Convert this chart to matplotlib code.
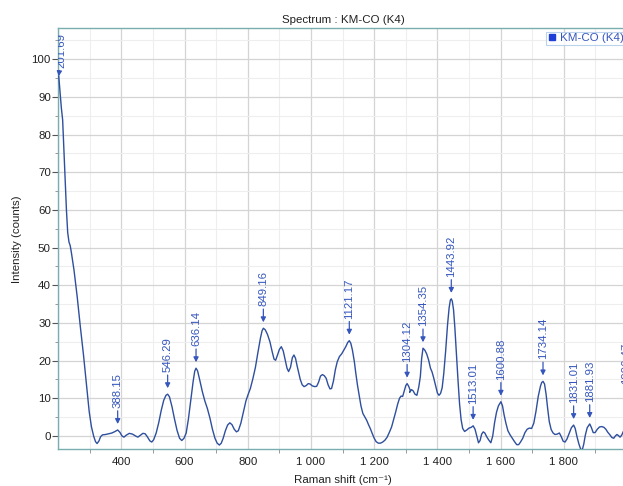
import matplotlib
matplotlib.use("Agg")
import matplotlib.pyplot as plt
from matplotlib.lines import Line2D
from matplotlib.ticker import MultipleLocator, FixedLocator, FuncFormatter

plt.rcParams['font.family'] = ['Liberation Sans', 'DejaVu Sans']

# Raman spectrum of KM-CO (K4)
raman_shift = [
    201.69, 206, 210, 214, 218, 222, 226, 230, 234, 238, 242, 250, 260, 270, 280, 290, 298,
    305, 312, 318, 323, 329, 334, 340, 350, 360, 370, 380, 388.15, 395, 402, 408, 415, 425,
    435, 445, 452, 460, 468, 475, 482, 490, 496, 502, 510, 518, 526, 534, 541, 546.29, 552,
    560, 568, 576, 584, 591, 598, 605, 612, 620, 627, 632, 636.14, 641, 648, 656, 664, 672,
    680, 688, 696, 703, 710, 716, 722, 729, 736, 743, 750, 757, 764, 770, 778, 786, 794,
    800, 808, 816, 824, 832, 840, 845, 849.16, 855, 862, 870, 877, 883, 888, 894, 900, 906,
    912, 918, 924, 929, 935, 941, 946, 951, 956, 961, 966, 972, 978, 985, 991, 997, 1004,
    1012, 1018, 1024, 1030, 1036, 1042, 1048, 1054, 1060, 1065, 1071, 1077, 1083, 1090,
    1097, 1104, 1110, 1116, 1121.17, 1126, 1131, 1137, 1142, 1147, 1152, 1158, 1164, 1170,
    1176, 1182, 1188, 1194, 1200, 1206, 1213, 1220, 1227, 1234, 1241, 1248, 1255, 1262,
    1268, 1274, 1280, 1285, 1290, 1296, 1300, 1304.12, 1309, 1314, 1312, 1318, 1323, 1329,
    1335, 1341, 1346, 1350, 1354.35, 1360, 1366, 1372, 1378, 1383, 1388, 1394, 1400, 1405,
    1410, 1415, 1420, 1426, 1432, 1437, 1441, 1443.92, 1447, 1451, 1455, 1460, 1465, 1470,
    1475, 1480, 1486, 1493, 1500, 1507, 1513.01, 1519, 1524, 1530, 1535, 1540, 1545, 1550,
    1556, 1562, 1569, 1575, 1581, 1587, 1593, 1600.88, 1606, 1611, 1617, 1623, 1630, 1637,
    1644, 1651, 1657, 1663, 1670, 1677, 1684, 1691, 1698, 1705, 1712, 1719, 1726, 1730,
    1734.14, 1739, 1744, 1749, 1754, 1760, 1766, 1772, 1779, 1786, 1792, 1798, 1804, 1810,
    1817, 1824, 1831.01, 1836, 1842, 1848, 1853, 1858, 1863, 1868, 1874, 1881.93, 1887,
    1893, 1899, 1906, 1913, 1920, 1927, 1933, 1939, 1946, 1952, 1958, 1963, 1968, 1973,
    1978, 1983, 1990, 1993, 1996.47, 2000, 2005,
]
intensity = [
    95.5, 91.0, 87.0, 83.9, 76.0, 68.0, 60.0, 54.0, 51.5, 50.5, 48.5, 44.0, 37.0, 29.0, 21.5, 13.0, 6.5,
    2.5, 0.0, -1.5, -2.0, -1.3, -0.2, 0.3, 0.4, 0.6, 0.8, 1.2, 1.6, 1.0, 0.0, -0.3, 0.2, 0.7,
    0.5, 0.0, -0.3, 0.2, 0.7, 0.6, -0.2, -1.3, -1.6, -1.0, 0.8, 3.5, 6.8, 9.5, 10.8, 11.1, 10.4,
    7.8, 4.5, 1.5, -0.6, -1.2, -0.6, 0.8, 4.5, 9.8, 14.5, 17.2, 18.0, 17.3, 14.8, 11.8, 9.3, 7.3,
    4.8, 1.8, -0.6, -1.9, -2.4, -1.9, -0.6, 1.4, 2.9, 3.5, 3.0, 1.8, 1.1, 1.4, 3.4, 6.4, 9.3,
    10.8, 12.6, 15.2, 18.2, 22.2, 26.0, 27.9, 28.6, 28.2, 27.0, 25.0, 22.4, 20.4, 20.1, 21.5, 23.0, 23.7,
    22.6, 20.3, 18.0, 17.1, 18.2, 20.8, 21.5, 20.6, 18.6, 16.8, 15.0, 13.6, 13.1, 13.4, 13.9, 13.8, 13.3,
    13.1, 13.2, 14.3, 15.9, 16.3, 16.0, 15.3, 13.6, 12.5, 12.6, 14.6, 17.6, 19.7, 21.1,
    21.8, 22.8, 23.7, 24.8, 25.3, 24.6, 22.8, 19.8, 16.5, 13.5, 11.0, 8.0, 6.0, 5.1,
    4.2, 3.0, 1.9, 0.6, -0.6, -1.5, -1.9, -1.9, -1.6, -1.1, -0.3, 1.0, 2.4, 4.5,
    6.4, 8.4, 10.0, 10.6, 10.5, 12.3, 13.4, 13.9, 13.2, 12.1, 11.6, 12.3, 12.0, 11.1,
    10.8, 13.0, 15.8, 20.5, 23.3, 22.8, 21.8, 20.2, 18.0, 17.0, 15.5, 13.4, 11.4, 10.8,
    11.3, 12.8, 16.5, 22.5, 29.5, 34.0, 36.1, 36.4, 35.8, 33.5, 29.0, 22.0, 15.0, 8.6,
    4.3, 2.0, 1.2, 1.6, 2.1, 2.3, 2.7, 1.8, 0.2, -1.8, -1.2, 0.5, 1.1, 0.8,
    -0.2, -1.0, -1.8, 0.0, 3.6, 6.3, 8.0, 9.1, 8.0, 5.6, 3.3, 1.4, 0.3, -0.6,
    -1.5, -2.3, -2.3, -1.6, -0.6, 0.9, 1.8, 2.1, 2.0, 3.4, 6.6, 10.5, 13.2, 14.2,
    14.5, 13.8, 11.0, 7.2, 3.8, 1.7, 0.8, 0.4, 0.5, 0.8, -0.2, -1.4, -1.6, -0.8,
    0.7, 2.2, 2.9, 2.0, -0.3, -2.2, -3.4, -3.8, -2.2, 0.2, 2.2, 3.2, 2.3,
    0.9, 0.9, 1.8, 2.4, 2.5, 2.3, 1.8, 1.0, 0.3, -0.4, -0.6, 0.0, 0.4, 0.1,
    -0.3, 0.2, 1.5, 4.5, 8.0, 4.0, 1.5,
]

# Labelled peak positions (cm-1)
peak_labels = ['201.69', '388.15', '546.29', '636.14', '849.16', '1121.17', '1304.12',
               '1354.35', '1443.92', '1513.01', '1600.88', '1734.14', '1831.01',
               '1881.93', '1996.47']

x_ticks = [400, 600, 800, 1000, 1200, 1400, 1600, 1800]
y_ticks = [0, 10, 20, 30, 40, 50, 60, 70, 80, 90, 100]

series_name = 'KM-CO (K4)'

line_color = '#2e4f9e'
label_color = '#3556bd'
spine_color = '#7aaeae'
fs = 8.25

fig = plt.figure(figsize=(6.23, 4.86), dpi=100)
W, H = 623.0, 486.0
ax = fig.add_axes([57.9 / W, 1 - 449.3 / H, (628.6 - 57.9) / W, (449.3 - 28.3) / H])

ax.plot(raman_shift, intensity, color=line_color, lw=1.0, zorder=3)

ax.set_xlim(199, 2005)
ax.set_ylim(-3.53, 108.2)

ax.xaxis.set_major_locator(FixedLocator(x_ticks))
ax.xaxis.set_minor_locator(FixedLocator([300, 500, 700, 900, 1100, 1300, 1500, 1700, 1900]))
ax.yaxis.set_major_locator(FixedLocator(y_ticks))
ax.yaxis.set_minor_locator(MultipleLocator(5))
ax.xaxis.set_major_formatter(FuncFormatter(lambda v, p: f"{int(round(v)):,}".replace(',', ' ')))

ax.grid(which='major', color='#d4d4d4', lw=0.9, zorder=0)
ax.grid(which='minor', color='#eeeeee', lw=0.8, zorder=0)
# keep the 200 / 2000 gridlines that sit outside the tick list
for gx in (200, 2000):
    ax.axvline(gx, color='#d4d4d4', lw=0.9, zorder=0)
ax.set_axisbelow(True)

for side in ('left', 'bottom', 'top'):
    ax.spines[side].set_color(spine_color)
    ax.spines[side].set_linewidth(1.0)
ax.spines['right'].set_visible(False)

ax.tick_params(axis='x', which='major', length=0, pad=5.5, labelsize=fs, colors='#222222')
ax.tick_params(axis='x', which='minor', length=3, color='#888888', direction='out')
ax.tick_params(axis='y', which='major', length=4, pad=1, labelsize=fs, color='#555555',
               labelcolor='#222222')
ax.tick_params(axis='y', which='minor', length=2.5, color='#888888')

ax.set_title('Spectrum : KM-CO (K4)', fontsize=fs, pad=4, color='#222222')
ax.set_xlabel('Raman shift (cm\u207b\u00b9)', fontsize=fs, labelpad=5.5, color='#222222')
ax.set_ylabel('Intensity (counts)', fontsize=fs, labelpad=7, color='#222222')

# Peak annotations
lookup = {}
for xv, yv in zip(raman_shift, intensity):
    lookup.setdefault(xv, yv)

for lab in peak_labels:
    xv = float(lab)
    yv = lookup[xv]
    if lab == '201.69':
        offset = (2.2, 6.0)
        shrink = 0
    else:
        offset = (0, 15.8)
        shrink = 4.3
    ax.annotate(lab, xy=(xv, yv), xytext=offset, textcoords='offset points',
                rotation=90, ha='center', va='bottom', fontsize=8.2, color=label_color,
                arrowprops=dict(arrowstyle='-|>,head_length=0.35,head_width=0.18',
                                color=label_color, lw=0.9, shrinkA=0, shrinkB=shrink),
                zorder=4, clip_on=True)

handle = Line2D([], [], marker='s', color='#1f3fd6', linestyle='none', markersize=4)
leg = ax.legend([handle], [series_name], loc='upper right', fontsize=fs,
                labelcolor='#3556bd', frameon=True, fancybox=False, borderpad=0.15,
                handletextpad=0.3, handlelength=0.7, borderaxespad=0.3)
leg.get_frame().set_edgecolor('#a9c7e6')
leg.get_frame().set_linewidth(0.8)

fig.savefig('out.png', dpi=100)
